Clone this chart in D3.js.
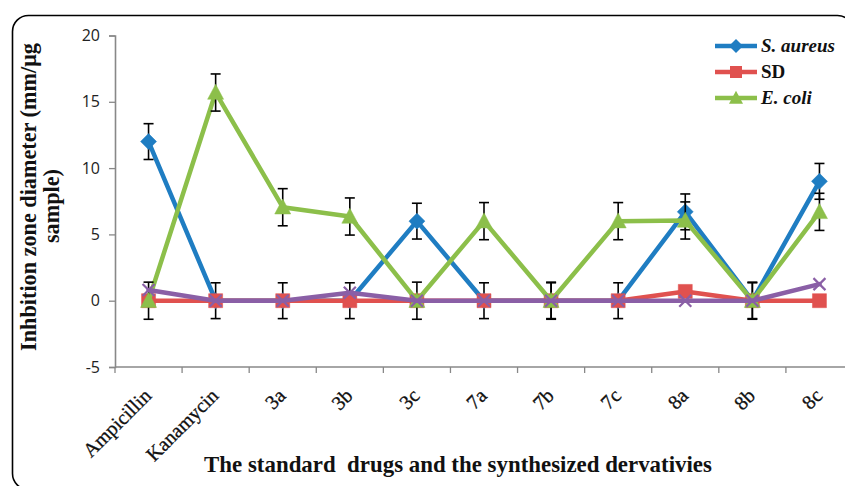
<!DOCTYPE html>
<html>
<head>
<meta charset="utf-8">
<script src="https://cdn.jsdelivr.net/npm/d3@7/dist/d3.min.js"></script>
<style>
  html, body { margin: 0; padding: 0; background: #fff; }
  svg { display: block; }
</style>
</head>
<body>
<svg id="chart" width="845" height="486"></svg>
<script>
// ---- data ----
const categories = ["Ampicillin", "Kanamycin", "3a", "3b", "3c", "7a", "7b", "7c", "8a", "8b", "8c"];
const sAureus    = [12, 0, 0, 0, 6, 0, 0, 0, 6.7, 0, 9];
const sdValues   = [0, 0, 0, 0, 0, 0, 0, 0, 0.7, 0, 0];
const eColi      = [0, 15.7, 7.05, 6.35, 0, 6, 0, 6, 6.05, 0, 6.7];
const series4    = [0.8, 0, 0, 0.6, 0, 0, 0, 0, 0, 0, 1.25];
const sAureusErr = [1.35, 1.35, 1.35, 1.35, 1.35, 1.35, 1.35, 1.35, 1.35, 1.35, 1.35];
const eColiErr   = [1.4, 1.4, 1.4, 1.4, 1.4, 1.4, 1.4, 1.4, 1.4, 1.4, 1.4];
const yTicks     = [-5, 0, 5, 10, 15, 20];
const legendNames = ["S. aureus", "SD", "E. coli"];

// ---- layout ----
const svg = d3.select("#chart");
const serif = "'Liberation Serif', 'DejaVu Serif', serif";
const sans = "'Open Sans', 'Liberation Sans', sans-serif";
const axisColor = "#888888";
const colors = { blue: "#1f7dc2", red: "#e0514f", green: "#8cbf4a", purple: "#8a5fa6" };

const x = d3.scaleBand().domain(categories).range([115, 853]).padding(0);
const cx = d => x(d) + x.bandwidth() / 2;
const y = d3.scaleLinear().domain([-5, 20]).range([367, 35.5]);

function fit(sel, target) {
  const w = sel.node().getComputedTextLength();
  const fs = parseFloat(sel.attr("font-size"));
  sel.attr("font-size", fs * target / w);
  return fs * target / w;
}

// frame
svg.append("rect")
  .attr("x", 12.5).attr("y", 15.5).attr("width", 841).attr("height", 474)
  .attr("rx", 16).attr("ry", 16)
  .attr("fill", "none").attr("stroke", "#000").attr("stroke-width", 1.6);

// y axis
const yAxis = svg.append("g").attr("transform", "translate(115,0)")
  .call(d3.axisLeft(y).tickValues(yTicks).tickSize(6).tickPadding(9).tickFormat(d => String(d)));
yAxis.select(".domain").attr("stroke", axisColor).attr("stroke-width", 1.6);
yAxis.selectAll(".tick line").attr("stroke", axisColor).attr("stroke-width", 1.3);
yAxis.selectAll(".tick text").attr("font-family", sans).attr("font-size", 16).attr("fill", "#222");

// x axis (ticks between categories)
const xg = svg.append("g");
xg.append("line").attr("x1", 115).attr("x2", 853).attr("y1", y(-5)).attr("y2", y(-5))
  .attr("stroke", axisColor).attr("stroke-width", 1.6);
const bounds = categories.map(c => x(c)).concat([x(categories[categories.length - 1]) + x.bandwidth()]);
xg.selectAll("line.tk").data(bounds).enter().append("line").attr("class", "tk")
  .attr("x1", d => d).attr("x2", d => d).attr("y1", y(-5)).attr("y2", y(-5) + 6)
  .attr("stroke", axisColor).attr("stroke-width", 1.3);
const xl = xg.selectAll("text.xl").data(categories).enter().append("text").attr("class", "xl")
  .attr("transform", d => `translate(${cx(d) + 4},${y(-5) + 30}) rotate(-45)`)
  .attr("text-anchor", "end")
  .attr("font-family", serif).attr("font-size", 15).attr("font-weight", "normal").attr("fill", "#111")
  .attr("stroke", "#111").attr("stroke-width", 0.3)
  .text(d => d);
const xfs = fit(d3.select(xl.nodes()[0]), 87);
xl.attr("font-size", xfs);

// axis titles
const xt = svg.append("text").attr("x", 458).attr("y", 472).attr("text-anchor", "middle")
  .attr("font-family", serif).attr("font-weight", "bold").attr("font-size", 18).attr("fill", "#111")
  .attr("xml:space", "preserve")
  .text("The standard  drugs and the synthesized dervativies");
fit(xt, 508);

const yt1 = svg.append("text").attr("transform", "translate(36,197) rotate(-90)").attr("text-anchor", "middle")
  .attr("font-family", serif).attr("font-weight", "bold").attr("font-size", 18).attr("fill", "#111")
  .text("Inhbition zone diameter (mm/μg");
const yfs = fit(yt1, 308);
svg.append("text").attr("transform", "translate(59,206) rotate(-90)").attr("text-anchor", "middle")
  .attr("font-family", serif).attr("font-weight", "bold").attr("font-size", yfs).attr("fill", "#111")
  .text("sample)");

// ---- series ----
const line = d3.line().x((d, i) => cx(categories[i])).y(d => y(d));
function drawLine(vals, color) {
  svg.append("path").datum(vals).attr("d", line).attr("fill", "none")
    .attr("stroke", color).attr("stroke-width", 4.5).attr("stroke-linejoin", "round").attr("stroke-linecap", "round");
}
function drawErr(vals, errs) {
  const g = svg.append("g").attr("stroke", "#000").attr("stroke-width", 1.6);
  vals.forEach((v, i) => {
    const px = cx(categories[i]);
    const t = y(v + errs[i]), b = y(v - errs[i]);
    g.append("line").attr("x1", px).attr("x2", px).attr("y1", t).attr("y2", b);
    g.append("line").attr("x1", px - 5).attr("x2", px + 5).attr("y1", t).attr("y2", t);
    g.append("line").attr("x1", px - 5).attr("x2", px + 5).attr("y1", b).attr("y2", b);
  });
}
const diamond = r => `M0,${-r}L${r},0L0,${r}L${-r},0Z`;
const square = s => `M${-s/2},${-s/2}h${s}v${s}h${-s}Z`;
const triangle = (w, h) => `M0,${-h*0.55}L${w/2},${h*0.45}L${-w/2},${h*0.45}Z`;
const cross = r => `M${-r},${-r}L${r},${r}M${r},${-r}L${-r},${r}`;

function drawMarkers(vals, pathD, color, stroke) {
  svg.append("g").selectAll("path").data(vals).enter().append("path")
    .attr("transform", (d, i) => `translate(${cx(categories[i])},${y(d)})`)
    .attr("d", pathD)
    .attr("fill", stroke ? "none" : color)
    .attr("stroke", color).attr("stroke-width", stroke ? 2.2 : 0.5);
}

drawLine(sAureus, colors.blue);
drawErr(sAureus, sAureusErr);
drawMarkers(sAureus, diamond(8), colors.blue);

drawLine(sdValues, colors.red);
drawMarkers(sdValues, square(14), colors.red);

drawLine(eColi, colors.green);
drawErr(eColi, eColiErr);
drawMarkers(eColi, triangle(16, 15), colors.green);

drawLine(series4, colors.purple);
drawMarkers(series4, cross(6), colors.purple, true);

// ---- legend ----
const legend = svg.append("g");
const legendColors = [colors.blue, colors.red, colors.green];
const legendMarks = [diamond(7), square(12), triangle(14, 13)];
const rowsY = [46, 72, 98];
legendNames.forEach((name, i) => {
  const gy = rowsY[i];
  legend.append("line").attr("x1", 715).attr("x2", 757).attr("y1", gy).attr("y2", gy)
    .attr("stroke", legendColors[i]).attr("stroke-width", 4.5);
  legend.append("path").attr("transform", `translate(736,${gy})`).attr("d", legendMarks[i])
    .attr("fill", legendColors[i]);
  const t = legend.append("text").attr("x", 761).attr("y", gy + 6)
    .attr("font-family", serif).attr("font-weight", "bold")
    .attr("font-style", i === 1 ? "normal" : "italic")
    .attr("font-size", 17).attr("fill", "#111").text(name);
  if (i === 0) fit(t, 74);
});
const lfs = legend.select("text").attr("font-size");
legend.selectAll("text").attr("font-size", lfs);
</script>
</body>
</html>
